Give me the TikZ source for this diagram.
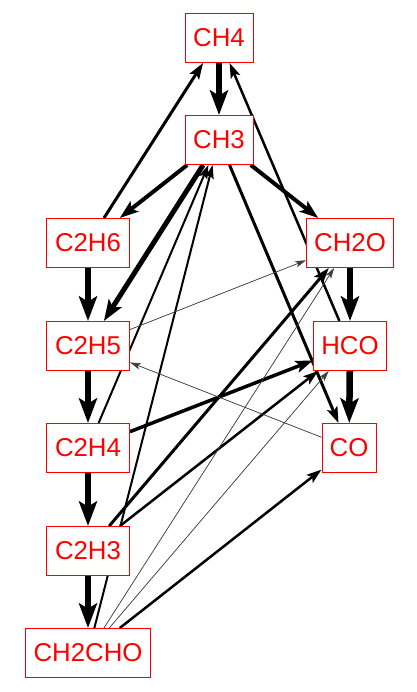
\documentclass[tikz,border=0pt]{standalone}
\usepackage{fontspec}
\setmainfont{Liberation Sans}
\usetikzlibrary{arrows.meta,backgrounds}
\begin{document}
\begin{tikzpicture}[x=1pt,y=-1pt,
  species/.style={draw=red, line width=1pt, fill=white, text=red,
    font=\fontsize{25.8}{29}\selectfont, minimum height=49pt,
    inner xsep=1pt, inner ysep=0pt},
  tipstyle/.style={-{Stealth[length=9pt 2.4, width=5pt 2, inset=2pt 0.5]}},
  flux/.style={line width=#1, tipstyle},
  weak/.style={line width=0.7pt, draw=black!75, fill=black!75, tipstyle}
]
\useasboundingbox (0,0) rectangle (416,692);
% nodes
\node[species, minimum width=68pt] (CH4) at (219,38) {CH4};
\node[species, minimum width=68pt] (CH3) at (219,140) {CH3};
\node[species, minimum width=83pt] (C2H6) at (88,243) {C2H6};
\node[species, minimum width=83pt] (C2H5) at (88,346) {C2H5};
\node[species, minimum width=83pt] (C2H4) at (88,448) {C2H4};
\node[species, minimum width=83pt] (C2H3) at (88,551) {C2H3};
\node[species, minimum width=125pt] (CH2CHO) at (88,653) {CH2CHO};
\node[species, minimum width=87pt] (CH2O) at (350,243) {CH2O};
\node[species, minimum width=73pt] (HCO) at (350,346) {HCO};
\node[species, minimum width=54pt] (CO) at (349,448) {CO};
% edges behind nodes
\begin{scope}[on background layer]
\fill[white] (0,0) rectangle (416,692);
\draw[flux=6.5pt] (CH4) -- (CH3);
\draw[flux=3pt] (C2H6) -- (CH4);
\draw[flux=2.5pt] (HCO) -- (CH4);
\draw[flux=4pt] (CH3) -- (C2H6);
\draw[flux=5pt] (CH3) -- (C2H5);
\draw[flux=4pt] (CH3) -- (CH2O);
\draw[flux=3pt] (CH3) -- (CO);
\draw[flux=2pt] (C2H4) -- (CH3);
\draw[flux=2pt] (CH2CHO) -- (CH3);
\draw[flux=6.5pt] (C2H6) -- (C2H5);
\draw[flux=6.5pt] (C2H5) -- (C2H4);
\draw[flux=6.5pt] (C2H4) -- (C2H3);
\draw[flux=6.5pt] (C2H3) -- (CH2CHO);
\draw[flux=6.5pt] (CH2O) -- (HCO);
\draw[flux=6.5pt] (HCO) -- (CO);
\draw[flux=3.5pt] (C2H4) -- (HCO);
\draw[flux=3pt] (C2H3) -- (CH2O);
\draw[flux=2.5pt] (C2H3) -- (HCO);
\draw[flux=2.5pt] (CH2CHO) -- (CO);
\draw[weak] (C2H5) -- (CH2O);
\draw[weak] (CO) -- (C2H5);
\draw[weak] (CH2CHO) -- (CH2O);
\draw[weak] (CH2CHO) -- (HCO);
\end{scope}
\end{tikzpicture}
\end{document}
